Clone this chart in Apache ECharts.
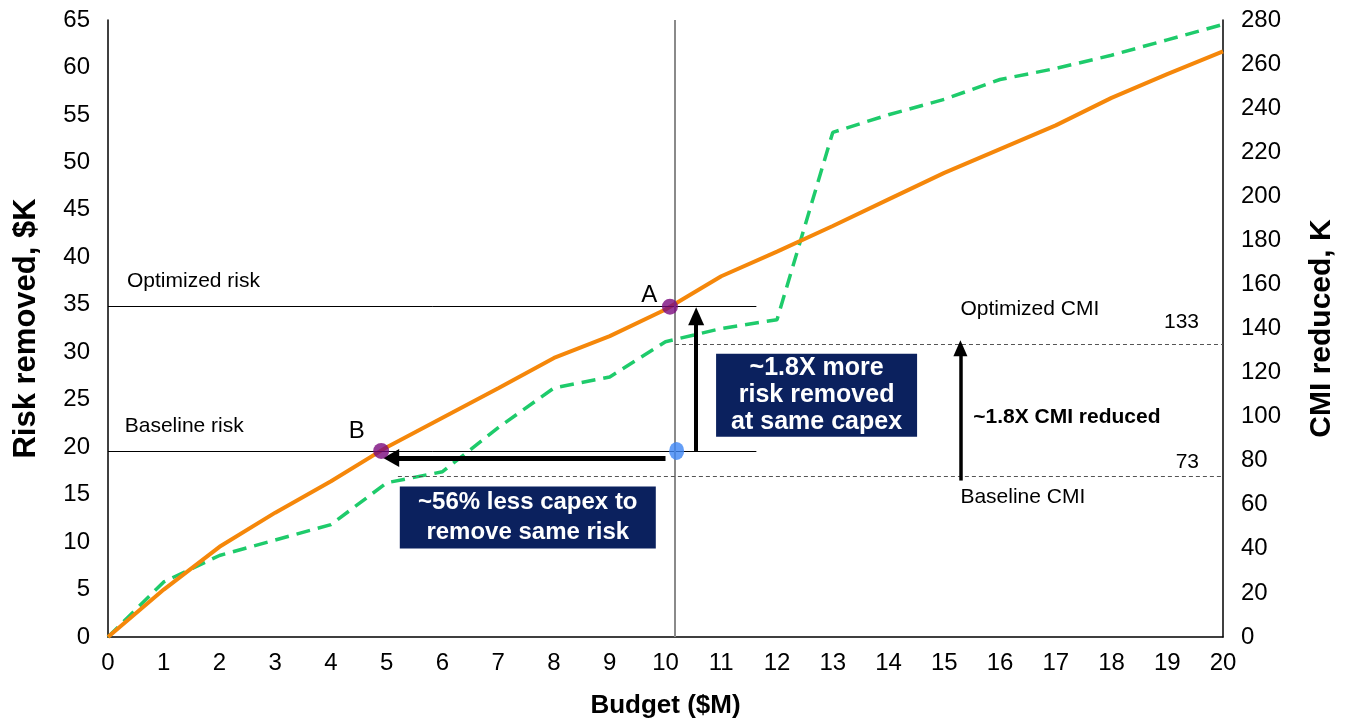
<!DOCTYPE html>
<html>
<head>
<meta charset="utf-8">
<title>Risk removed vs budget</title>
<script src="https://cdn.jsdelivr.net/npm/echarts@6/dist/echarts.min.js"></script>
<style>
  html, body { margin: 0; padding: 0; background: #ffffff; overflow: hidden; width: 100%; height: 100%; }
  #chart { position: absolute; left: 0; top: 0; width: 100vw; height: 100vh; }
</style>
</head>
<body>
<div id="chart"></div>
<script>
// Budget steps ($M)
const budget = [0, 1, 2, 3, 4, 5, 6, 7, 8, 9, 10, 11, 12, 13, 14, 15, 16, 17, 18, 19, 20];
// Risk removed ($K), left axis
const riskRemoved = [0, 5.0, 9.5, 13.1, 16.4, 20.0, 23.1, 26.2, 29.4, 31.7, 34.5, 38.0, 40.6, 43.3, 46.1, 48.9, 51.4, 53.9, 56.8, 59.3, 61.7];
// CMI reduced (K), right axis
const cmiReduced = [0, 25, 37, 44, 51, 70, 75, 95, 113, 118, 134, 140, 144, 229, 237, 244, 253, 258, 264, 271, 278];

// Reference levels
const optimizedRisk = 34.8;
const baselineRisk = 19.6;
const optimizedCMI = 133;
const baselineCMI = 73;
const sameCapex = 10.17;      // budget of the baseline plan
const pointA = [10.08, 34.8];
const pointB = [4.9, 19.6];
const baselinePoint = [10.2, 19.6];

const FONT = '"Liberation Sans", Arial, Helvetica, sans-serif';
const ORANGE = '#F5870A';
const GREEN = '#1ECB6B';
const NAVY = '#0B215E';
const PURPLE = '#7A0A7E';
const BLUE = '#3D86F5';

const chart = echarts.init(document.getElementById('chart'), null, { renderer: 'canvas' });

const axisLine = { show: true, lineStyle: { color: '#000', width: 1.5 } };

const option = {
  animation: false,
  backgroundColor: '#ffffff',
  grid: { left: 108, right: 114, top: 20, bottom: 86, containLabel: false },
  xAxis: {
    type: 'value', min: 0, max: 20, interval: 1,
    axisLine: axisLine, axisTick: { show: false }, splitLine: { show: false },
    axisLabel: { color: '#000', fontFamily: FONT, fontSize: 24, margin: 14 },
    name: 'Budget ($M)', nameLocation: 'middle', nameGap: 56,
    nameTextStyle: { color: '#000', fontFamily: FONT, fontSize: 26, fontWeight: 'bold' }
  },
  yAxis: [
    {
      type: 'value', min: 0, max: 65, interval: 5, position: 'left',
      axisLine: axisLine, axisTick: { show: false }, splitLine: { show: false },
      axisLabel: { color: '#000', fontFamily: FONT, fontSize: 24, margin: 18 },
      name: 'Risk removed, $K', nameLocation: 'middle', nameRotate: 90, nameGap: 66,
      nameTextStyle: { color: '#000', fontFamily: FONT, fontSize: 31, fontWeight: 'bold' }
    },
    {
      type: 'value', min: 0, max: 280, interval: 20, position: 'right', alignTicks: false,
      axisLine: axisLine, axisTick: { show: false }, splitLine: { show: false },
      axisLabel: { color: '#000', fontFamily: FONT, fontSize: 24, margin: 18 },
      name: 'CMI reduced, K', nameLocation: 'middle', nameRotate: 90, nameGap: 84,
      nameTextStyle: { color: '#000', fontFamily: FONT, fontSize: 30, fontWeight: 'bold' }
    }
  ],
  series: [
    // risk reference lines and the same-capex vertical
    {
      type: 'line', yAxisIndex: 0, data: [], silent: true, z: 1,
      markLine: {
        silent: true, symbol: 'none', label: { show: false }, animation: false,
        data: [
          [{ coord: [0, optimizedRisk], lineStyle: { color: '#000', width: 1, type: 'solid' } }, { coord: [11.63, optimizedRisk] }],
          [{ coord: [0, baselineRisk], lineStyle: { color: '#000', width: 1, type: 'solid' } }, { coord: [11.63, baselineRisk] }],
          [{ coord: [sameCapex, 0], lineStyle: { color: '#8a8a8a', width: 2, type: 'solid' } }, { coord: [sameCapex, 65] }]
        ]
      }
    },
    // CMI reference levels
    {
      type: 'line', yAxisIndex: 1, data: [], silent: true, z: 1,
      markLine: {
        silent: true, symbol: 'none', label: { show: false }, animation: false,
        lineStyle: { color: '#555', width: 1, type: [4, 3] },
        data: [
          [{ coord: [sameCapex, optimizedCMI] }, { coord: [20, optimizedCMI] }],
          [{ coord: [5.2, baselineCMI] }, { coord: [20, baselineCMI] }]
        ]
      }
    },
    {
      name: 'CMI reduced', type: 'line', yAxisIndex: 1, z: 3,
      data: budget.map((b, i) => [b, cmiReduced[i]]),
      showSymbol: false, symbol: 'none',
      lineStyle: { color: GREEN, width: 3.5, type: [14, 8] }
    },
    {
      name: 'Risk removed', type: 'line', yAxisIndex: 0, z: 4,
      data: budget.map((b, i) => [b, riskRemoved[i]]),
      showSymbol: false, symbol: 'none',
      lineStyle: { color: ORANGE, width: 4 }
    },
    // arrows on the risk axis
    {
      type: 'line', yAxisIndex: 0, data: [], silent: true, z: 5,
      markLine: {
        silent: true, symbol: ['none', 'triangle'], label: { show: false }, animation: false,
        data: [
          [{ coord: [10.0, 18.85], lineStyle: { color: '#000', width: 5, type: 'solid' } },
           { coord: [5.08, 18.85], symbolSize: [18, 16] }],
          [{ coord: [10.55, baselineRisk], lineStyle: { color: '#000', width: 4, type: 'solid' } },
           { coord: [10.55, 33.8], symbolSize: [16, 18] }]
        ]
      }
    },
    // arrow on the CMI axis
    {
      type: 'line', yAxisIndex: 1, data: [], silent: true, z: 5,
      markLine: {
        silent: true, symbol: ['none', 'triangle'], symbolSize: [14, 16], label: { show: false }, animation: false,
        lineStyle: { color: '#000', width: 3.5, type: 'solid' },
        data: [
          [{ coord: [15.29, 71] }, { coord: [15.29, 131] }]
        ]
      }
    },
    {
      type: 'scatter', yAxisIndex: 0, z: 6, silent: true,
      symbol: 'circle', symbolSize: 16,
      itemStyle: { color: PURPLE },
      data: [pointA, pointB]
    },
    {
      type: 'scatter', yAxisIndex: 0, z: 6, silent: true,
      symbol: 'circle', symbolSize: [15, 18],
      itemStyle: { color: BLUE },
      data: [baselinePoint]
    }
  ]
};

chart.setOption(option);

// Annotation texts placed in data coordinates
const notes = [
  { text: 'Optimized risk', at: [0.34, 37.5], axis: 0, align: 'left', size: 21 },
  { text: 'Baseline risk', at: [0.30, 22.2], axis: 0, align: 'left', size: 21 },
  { text: 'A', at: [9.71, 36.0], axis: 0, align: 'center', size: 24 },
  { text: 'B', at: [4.46, 21.7], axis: 0, align: 'center', size: 24 },
  { text: 'Optimized CMI', at: [15.29, 148.6], axis: 1, align: 'left', size: 21 },
  { text: 'Baseline CMI', at: [15.29, 63.4], axis: 1, align: 'left', size: 21 },
  { text: String(optimizedCMI), at: [19.57, 142.7], axis: 1, align: 'right', size: 21 },
  { text: String(baselineCMI), at: [19.57, 79.3], axis: 1, align: 'right', size: 21 },
  { text: '~1.8X CMI reduced', at: [15.52, 99.7], axis: 1, align: 'left', size: 21, bold: true }
];
const boxes = [
  { text: '~1.8X more\nrisk removed\nat same capex', at: [12.71, 25.47], width: 201, lineHeight: 27, size: 25 },
  { text: '~56% less capex to\nremove same risk', at: [7.53, 12.58], width: 256, lineHeight: 30, size: 24 }
];

function toPx(at, axis) {
  return chart.convertToPixel({ xAxisIndex: 0, yAxisIndex: axis || 0 }, at);
}

const graphic = [];
notes.forEach(n => {
  const p = toPx(n.at, n.axis);
  graphic.push({
    type: 'text', x: p[0], y: p[1], z: 10, silent: true,
    style: {
      text: n.text, fill: '#000', align: n.align, verticalAlign: 'middle',
      fontFamily: FONT, fontSize: n.size, fontWeight: n.bold ? 'bold' : 'normal'
    }
  });
});
boxes.forEach(b => {
  const p = toPx(b.at, 0);
  graphic.push({
    type: 'text', x: p[0], y: p[1], z: 10, silent: true,
    style: {
      text: b.text, fill: '#fff', align: 'center', verticalAlign: 'middle',
      fontFamily: FONT, fontSize: b.size, fontWeight: 'bold', lineHeight: b.lineHeight,
      width: b.width, backgroundColor: NAVY, padding: [1, 0]
    }
  });
});
chart.setOption({ graphic: graphic });
</script>
</body>
</html>
